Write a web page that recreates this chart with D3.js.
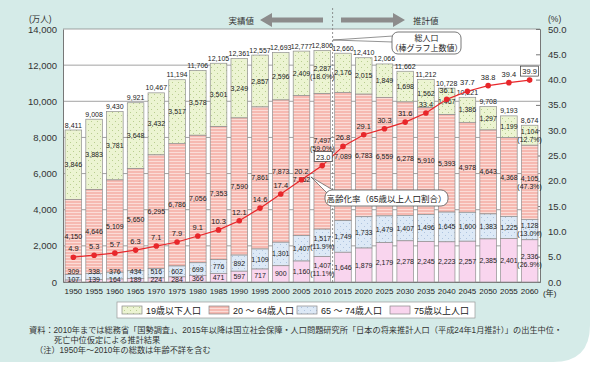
<!DOCTYPE html>
<html><head><meta charset="utf-8">
<script src="https://cdn.jsdelivr.net/npm/d3@7"></script>
<style>
html,body{margin:0;padding:0;background:#fff;}
svg{display:block;}
text{font-family:"Liberation Sans","Noto Sans CJK JP",sans-serif;}
</style></head>
<body>
<svg id="c" width="590" height="365"></svg>
<script>
const years = [1950,1955,1960,1965,1970,1975,1980,1985,1990,1995,2000,2005,2010,2015,2020,2025,2030,2035,2040,2045,2050,2055,2060];
const totals = [8411,9008,9430,9921,10467,11194,11706,12105,12361,12557,12693,12777,12806,12660,12410,12066,11662,11212,10728,10221,9708,9193,8674];
const under19 = [3846,3883,3781,3648,3432,3517,3578,3501,3249,2857,2596,2409,2287,2176,2015,1849,1698,1562,1467,1386,1297,1199,1104];
const age20to64 = [4150,4646,5109,5650,6295,6786,7056,7353,7590,7861,7873,7752,7497,7089,6783,6559,6278,5910,5393,4978,4643,4368,4105];
const age65to74 = [309,338,376,434,516,602,699,776,892,1109,1301,1407,1517,1749,1733,1479,1407,1496,1645,1600,1383,1225,1128];
const age75plus = [107,139,164,189,224,284,366,471,597,717,900,1160,1407,1646,1879,2179,2278,2245,2223,2257,2385,2401,2336];
const agingRate = [4.9,5.3,5.7,6.3,7.1,7.9,9.1,10.3,12.1,14.6,17.4,20.2,23.0,26.8,29.1,30.3,31.6,33.4,36.1,37.7,38.8,39.4,39.9];
const leftTicks = [0,2000,4000,6000,8000,10000,12000,14000];
const rightTicks = [0,5,10,15,20,25,30,35,40,45,50];
const share2010 = ["(18.0%)","(59.0%)","(11.9%)","(11.1%)"];
const share2060 = ["(12.7%)","(47.3%)","(13.0%)","(26.9%)"];
const legendLabels = ["19歳以下人口","20 ～ 64歳人口","65 ～ 74歳人口","75歳以上人口"];

const svg = d3.select("#c");
const L = 63, R = 540, T = 29, B = 282;
const fmt = d3.format(",");

// background
svg.append("rect").attr("x",0).attr("y",0).attr("width",590).attr("height",365).attr("fill","#fff");
svg.append("path").attr("d","M0,0H590V325Q590,362 553,362H0Z").attr("fill","#d5ebe8");

const defs = svg.append("defs");
const pg = defs.append("pattern").attr("id","pGreen").attr("width",6).attr("height",6).attr("patternUnits","userSpaceOnUse");
pg.append("rect").attr("width",6).attr("height",6).attr("fill","#ecf4d2");
pg.append("circle").attr("cx",1.5).attr("cy",1.5).attr("r",0.5).attr("fill","#a9c27a");
pg.append("circle").attr("cx",4.5).attr("cy",4.5).attr("r",0.5).attr("fill","#a9c27a");
const pp = defs.append("pattern").attr("id","pPink").attr("width",4).attr("height",3).attr("patternUnits","userSpaceOnUse");
pp.append("rect").attr("width",4).attr("height",3).attr("fill","#f6b9b1");
pp.append("rect").attr("y",2).attr("width",4).attr("height",1).attr("fill","#fbdcd7");
const pb = defs.append("pattern").attr("id","pBlue").attr("width",6).attr("height",6).attr("patternUnits","userSpaceOnUse");
pb.append("rect").attr("width",6).attr("height",6).attr("fill","#dde9f6");
pb.append("circle").attr("cx",1.5).attr("cy",1.5).attr("r",0.5).attr("fill","#9fb8d8");
pb.append("circle").attr("cx",4.5).attr("cy",4.5).attr("r",0.5).attr("fill","#9fb8d8");
const fills = ["url(#pGreen)","url(#pPink)","url(#pBlue)","#f9d5ee"];

const x = d3.scaleBand().domain(years).range([L,R]).paddingInner(0.2).paddingOuter(0.1);
const y = d3.scaleLinear().domain([0,14000]).range([B,T]);
const yR = d3.scaleLinear().domain([0,50]).range([B,T]);

// plot area
svg.append("rect").attr("x",L).attr("y",T).attr("width",R-L).attr("height",B-T).attr("fill","#fff");

// gridlines
svg.append("g").selectAll("line").data(leftTicks).join("line")
  .attr("x1",L).attr("x2",R).attr("y1",d=>y(d)).attr("y2",d=>y(d))
  .attr("stroke","#8a8a8a").attr("stroke-width",0.8);

// left axis
const gl = svg.append("g").attr("transform",`translate(${L},0)`)
  .call(d3.axisLeft(y).tickValues(leftTicks).tickFormat(d=>fmt(d)).tickSize(0).tickPadding(6));
gl.select(".domain").attr("stroke","#777");
gl.selectAll("text").attr("font-size",9.5).attr("fill","#333");
// right axis
const gr = svg.append("g").attr("transform",`translate(${R},0)`)
  .call(d3.axisRight(yR).tickValues(rightTicks).tickFormat(d3.format(".1f")).tickSize(-4).tickPadding(8));
gr.select(".domain").attr("stroke","#777");
gr.selectAll("line").attr("stroke","#777");
gr.selectAll("text").attr("font-size",9.5).attr("fill","#333");
// x axis
const gx = svg.append("g").attr("transform",`translate(0,${B})`)
  .call(d3.axisBottom(x).tickSize(0).tickPadding(6));
gx.select(".domain").attr("stroke","#777");
gx.selectAll("text").attr("font-size",8).attr("fill","#222");

// bars
const rows = years.map((yr,i)=>{
  const s0 = 0, s1 = age75plus[i], s2 = s1+age65to74[i], s3 = s2+age20to64[i];
  return {yr,i,segs:[[s3,totals[i]],[s2,s3],[s1,s2],[s0,s1]]};
});
const bars = svg.append("g");
rows.forEach(r=>{
  r.segs.forEach((s,k)=>{
    bars.append("rect").attr("x",x(r.yr)).attr("width",x.bandwidth())
      .attr("y",y(s[1])).attr("height",y(s[0])-y(s[1]))
      .attr("fill",fills[k]).attr("stroke","#8f8f8f").attr("stroke-width",0.7);
  });
});

// separator dashed line
const sepX = (x(2010)+x.bandwidth()+x(2015))/2;
svg.append("line").attr("x1",sepX).attr("x2",sepX).attr("y1",8).attr("y2",B)
  .attr("stroke","#777").attr("stroke-dasharray","2,2").attr("stroke-width",0.8);

// value labels
const lab = svg.append("g").attr("font-size",7).attr("fill","#222").attr("text-anchor","middle");
rows.forEach(r=>{
  const i = r.i, cx = x(r.yr)+x.bandwidth()/2;
  lab.append("text").attr("x",cx).attr("y",y(totals[i])-2.5).text(fmt(totals[i]));
  const vals = [under19[i],age20to64[i],age65to74[i],age75plus[i]];
  const centers = r.segs.map(s=>(y(s[0])+y(s[1]))/2);
  let y75 = Math.min(centers[3]+2.5, B-0.5);
  let y65 = Math.min(centers[2]+2.5, y75-7.5);
  const ys = [centers[0]+2.5, centers[1]+2.5, y65, y75];
  if(r.yr===2005) ys[1] += 14;
  if(r.yr===2010) ys[1] -= 17;
  const extra = r.yr===2010 ? share2010 : (r.yr===2060 ? share2060 : null);
  vals.forEach((v,k)=>{
    if(extra){
      lab.append("text").attr("x",cx).attr("y",ys[k]-4).text(fmt(v));
      lab.append("text").attr("x",cx).attr("y",ys[k]+4).text(extra[k]);
    } else {
      lab.append("text").attr("x",cx).attr("y",ys[k]).text(fmt(v));
    }
  });
});

// aging rate line
const line = d3.line().x((d,i)=>x(years[i])+x.bandwidth()/2).y(d=>yR(d));
svg.append("path").datum(agingRate).attr("d",line).attr("fill","none").attr("stroke","#e8272b").attr("stroke-width",1.2);
svg.append("g").selectAll("circle").data(agingRate).join("circle")
  .attr("cx",(d,i)=>x(years[i])+x.bandwidth()/2).attr("cy",d=>yR(d)).attr("r",2.8).attr("fill","#e8272b");
const rl = svg.append("g").attr("font-size",7.5).attr("fill","#222").attr("text-anchor","middle");
agingRate.forEach((d,i)=>{
  let cx = x(years[i])+x.bandwidth()/2, cy = yR(d)-6;
  if(years[i]===2010){ cx += 1; }
  if(years[i]===2010 || years[i]===2060){
    rl.append("rect").attr("x",cx-9).attr("y",cy-8).attr("width",18).attr("height",10)
      .attr("fill","#fff").attr("stroke","#333").attr("stroke-width",0.7);
  }
  rl.append("text").attr("x",cx).attr("y",cy).text(d.toFixed(1));
});

// header arrows
svg.append("path").attr("d","M260,20 L272,13 L272,17.5 L323,17.5 L323,22.5 L272,22.5 L272,27 Z").attr("fill","#8c8c8c");
svg.append("path").attr("d","M405,20 L393,13 L393,17.5 L341,17.5 L341,22.5 L393,22.5 L393,27 Z").attr("fill","#8c8c8c");
svg.append("text").attr("x",254).attr("y",24).attr("text-anchor","end").attr("font-size",8.5).attr("fill","#333").text("実績値");
svg.append("text").attr("x",413).attr("y",24).attr("font-size",8.5).attr("fill","#333").text("推計値");
svg.append("text").attr("x",29).attr("y",22).attr("font-size",8.5).attr("fill","#333").text("(万人)");
svg.append("text").attr("x",548).attr("y",22).attr("font-size",8.5).attr("fill","#333").text("(%)");

// callout: total population
svg.append("path").attr("d","M333,40 L393,36 M333,40 L393,42").attr("stroke","#666").attr("stroke-width",0.7).attr("fill","none");
svg.append("rect").attr("x",392).attr("y",32).attr("width",69).attr("height",22).attr("rx",6)
  .attr("fill","#fff").attr("stroke","#555").attr("stroke-width",0.8);
svg.append("text").attr("x",426.5).attr("y",41).attr("text-anchor","middle").attr("font-size",8).attr("fill","#222").text("総人口");
svg.append("text").attr("x",426.5).attr("y",51).attr("text-anchor","middle").attr("font-size",8).attr("fill","#222").text("（棒グラフ上数値）");

// callout: aging rate
svg.append("path").attr("d","M311,177 L327,193 L338,193 Z").attr("fill","#fff").attr("stroke","#555").attr("stroke-width",0.7);
svg.append("rect").attr("x",325).attr("y",190).attr("width",123).attr("height",16).attr("rx",7)
  .attr("fill","#fff").attr("stroke","#555").attr("stroke-width",0.8);
svg.append("text").attr("x",386.5).attr("y",201.5).attr("text-anchor","middle").attr("font-size",8.5).attr("fill","#222").text("高齢化率（65歳以上人口割合）");

// legend
svg.append("rect").attr("x",117).attr("y",302).attr("width",358).attr("height",16).attr("fill","#fff").attr("stroke","#999").attr("stroke-width",0.7);
const legX = [122,209,297,390];
legendLabels.forEach((t,k)=>{
  svg.append("rect").attr("x",legX[k]).attr("y",306).attr("width",20).attr("height",8)
    .attr("fill",fills[k]).attr("stroke","#888").attr("stroke-width",0.7);
  svg.append("text").attr("x",legX[k]+24).attr("y",313.5).attr("font-size",9).attr("fill","#222").text(t);
});

// notes
const nt = svg.append("g").attr("font-size",8.2).attr("fill","#333");
nt.append("text").attr("x",29).attr("y",333).text("資料：2010年までは総務省「国勢調査」、2015年以降は国立社会保障・人口問題研究所「日本の将来推計人口（平成24年1月推計）」の出生中位・");
nt.append("text").attr("x",54).attr("y",343).text("死亡中位仮定による推計結果");
nt.append("text").attr("x",35).attr("y",353).text("（注）1950年～2010年の総数は年齢不詳を含む");
// year unit
svg.append("text").attr("x",543).attr("y",296).attr("font-size",8).attr("fill","#222").text("(年)");
</script>
</body></html>
